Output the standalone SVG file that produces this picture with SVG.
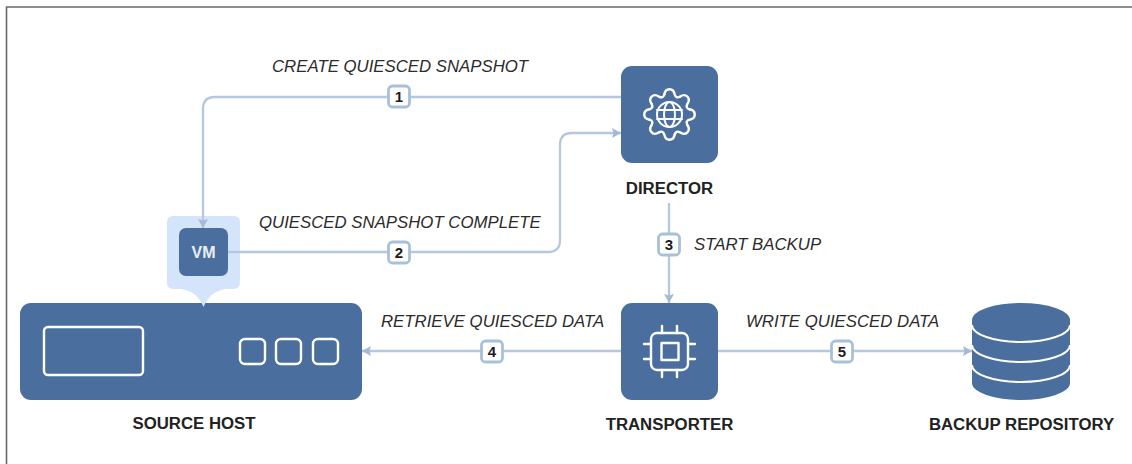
<svg xmlns="http://www.w3.org/2000/svg" width="1132" height="464" viewBox="0 0 1132 464">
<style>
.box{fill:#4a6f9e}
.ic{fill:none;stroke:#fff;stroke-width:2.4;stroke-linejoin:round;stroke-linecap:round}
.edge{fill:none;stroke:#b5c8de;stroke-width:2.300}
.badge rect{fill:#fff;stroke:#a9c0da;stroke-width:2.800}
.badge text{font:bold 15px "Liberation Sans",Arial,sans-serif;fill:#1c1c1c;text-anchor:middle}
.lab{font:italic 16.8px "Liberation Sans",Arial,sans-serif;fill:#2b2b2b}
.name{font:bold 16.8px "Liberation Sans",Arial,sans-serif;fill:#222;text-anchor:middle}
</style>
<defs>
<marker id="ah" markerWidth="10" markerHeight="11" refX="9" refY="5" orient="auto" markerUnits="userSpaceOnUse"><path d="M0 0L9 5L0 10L1.500 5Z" fill="#a3bad5"/></marker>
<path id="tooth" class="ic" d="M-5.200 -20C-4 -27 4 -27 5.200 -20Q6.500 -15.700 10.460 -17.800"/>
</defs>
<path d="M6.500 464V7H1132" fill="none" stroke="#6a6a6a" stroke-width="1.600"/>
<g id="source-host">
<rect class="box" x="20" y="303" width="342" height="97" rx="11"/>
<rect class="ic" x="44" y="327" width="99" height="48" rx="4"/>
<rect class="ic" x="240" y="339" width="25" height="25" rx="5"/>
<rect class="ic" x="276" y="339" width="25" height="25" rx="5"/>
<rect class="ic" x="313" y="339" width="25" height="25" rx="5"/>
<text class="name" x="194" y="429">SOURCE HOST</text>
</g>
<g id="vm">
<path fill="#d4e5fb" d="M173 216H234Q240 216 240 222V282Q240 289 233 289H226Q210 291 203.500 307Q197 291 181 289H173Q167 289 167 282V222Q167 216 173 216Z"/>
<rect class="box" x="179" y="228" width="49" height="48" rx="7"/>
<text x="203.500" y="258" text-anchor="middle" style="font:bold 16px 'Liberation Sans',Arial,sans-serif;fill:#e9eff6">VM</text>
</g>
<g id="director">
<rect class="box" x="621" y="66" width="97" height="97" rx="11"/>
<g transform="translate(669.500 114.500)">
<use href="#tooth"/>
<use href="#tooth" transform="rotate(45)"/>
<use href="#tooth" transform="rotate(90)"/>
<use href="#tooth" transform="rotate(135)"/>
<use href="#tooth" transform="rotate(180)"/>
<use href="#tooth" transform="rotate(225)"/>
<use href="#tooth" transform="rotate(270)"/>
<use href="#tooth" transform="rotate(315)"/>
</g>
<circle class="ic" cx="669.500" cy="114.500" r="12.500" style="stroke-width:2"/>
<ellipse class="ic" cx="669.500" cy="114.500" rx="5.500" ry="12.500" style="stroke-width:2"/>
<path class="ic" d="M657 110H682M657 119H682" style="stroke-width:2"/>
<text class="name" x="669.500" y="194">DIRECTOR</text>
</g>
<g id="transporter">
<rect class="box" x="621" y="303" width="97" height="97" rx="11"/>
<rect class="ic" x="651" y="333" width="37" height="37" rx="6"/>
<rect class="ic" x="661.500" y="343" width="17" height="17"/>
<path class="ic" d="M662 326V333M677 326V333M662 370V377M677 370V377M644 344H651M644 359H651M688 344H695M688 359H695"/>
<text class="name" x="669.500" y="430">TRANSPORTER</text>
</g>
<g id="backup-repository">
<path class="box" d="M972 320A49 17 0 0 1 1070 320V383A49 17 0 0 1 972 383Z"/>
<path fill="none" stroke="#fff" stroke-width="2" d="M972 325A49 17 0 0 0 1070 325M972 345A49 17 0 0 0 1070 345M972 365A49 17 0 0 0 1070 365"/>
<text class="name" x="1021.500" y="430">BACKUP REPOSITORY</text>
</g>
<g id="connectors">
<path class="edge" marker-end="url(#ah)" d="M621 97H215Q203 97 203 109V228"/>
<path class="edge" marker-end="url(#ah)" d="M228 252H548Q560 252 560 240V145Q560 133 572 133H621"/>
<path class="edge" marker-end="url(#ah)" d="M669 203V303"/>
<path class="edge" marker-end="url(#ah)" d="M621 351H362"/>
<path class="edge" marker-end="url(#ah)" d="M718 351H972"/>
</g>
<g class="badge" id="b1"><rect x="388.500" y="86" width="21" height="21" rx="4"/><text x="399" y="102">1</text></g>
<g class="badge" id="b2"><rect x="388.500" y="242" width="21" height="21" rx="4"/><text x="399" y="258">2</text></g>
<g class="badge" id="b3"><rect x="658.500" y="234" width="21" height="21" rx="4"/><text x="669" y="250">3</text></g>
<g class="badge" id="b4"><rect x="481.500" y="341" width="21" height="21" rx="4"/><text x="492" y="357">4</text></g>
<g class="badge" id="b5"><rect x="831.500" y="341" width="21" height="21" rx="4"/><text x="842" y="357">5</text></g>
<g id="labels">
<text class="lab" x="272" y="71.500">CREATE QUIESCED SNAPSHOT</text>
<text class="lab" x="259" y="227.500">QUIESCED SNAPSHOT COMPLETE</text>
<text class="lab" x="694" y="250">START BACKUP</text>
<text class="lab" x="381" y="326.500">RETRIEVE QUIESCED DATA</text>
<text class="lab" x="746" y="326.500">WRITE QUIESCED DATA</text>
</g>
</svg>
